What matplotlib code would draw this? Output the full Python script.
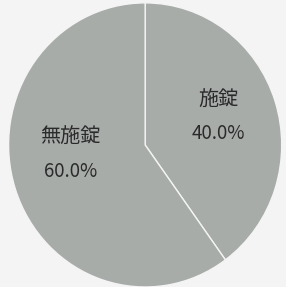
import matplotlib
matplotlib.use("Agg")
import matplotlib.pyplot as plt
import numpy as np

plt.rcParams['font.family'] = ['Noto Sans CJK JP', 'DejaVu Sans']

# data
labels = ['施錠', '無施錠']
values = [40.0, 60.0]
colors = ['#a8aca9', '#a8aca9']

# label nudges (layout only): radius, extra angle in degrees
label_r = [0.57, 0.55]
label_dang = [2.5, -11.0]

fig = plt.figure(figsize=(2.86, 2.87), dpi=100, facecolor='#f4f4f4')
ax = fig.add_axes([0.03, 0.0, 0.955, 0.99])
ax.set_facecolor('#f4f4f4')

wedges, texts = ax.pie(values, colors=colors, startangle=90, counterclock=False,
                       wedgeprops=dict(edgecolor='#f4f4f4', linewidth=1.0))[:2]

for w, lab, v, r, da in zip(wedges, labels, values, label_r, label_dang):
    ang = np.deg2rad((w.theta1 + w.theta2) / 2 + da)
    x, y = r * np.cos(ang), r * np.sin(ang)
    ax.text(x, y + 0.117, lab, ha='center', va='center', fontsize=14.5,
            color='#2a2a2a')
    ax.text(x, y - 0.117, f"{v / sum(values) * 100:.1f}%", ha='center',
            va='center', fontsize=13.5, color='#2a2a2a')

ax.set_aspect('auto')
ax.set_xlim(-1, 1)
ax.set_ylim(-1, 1)
ax.axis('off')

fig.savefig('out.png', dpi=100, facecolor=fig.get_facecolor())
